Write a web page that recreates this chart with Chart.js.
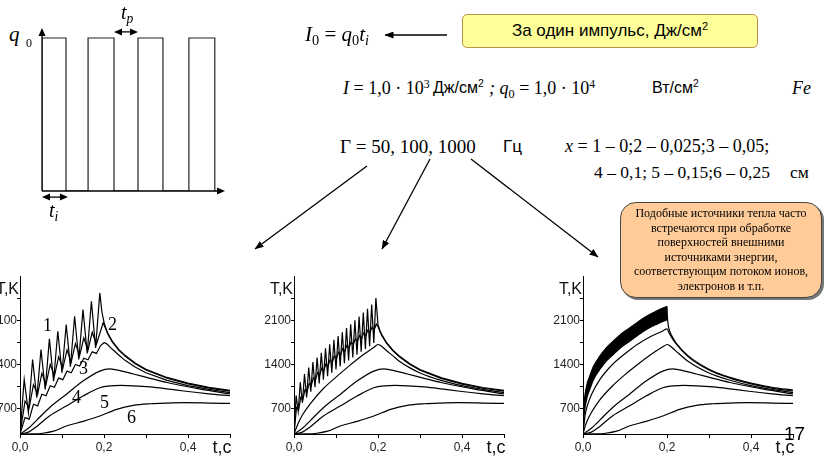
<!DOCTYPE html>
<html>
<head>
<meta charset="utf-8">
<script src="https://cdn.jsdelivr.net/npm/chart.js@4.4.1/dist/chart.umd.min.js"></script>
<style>
html, body { margin: 0; padding: 0; background: #fff; }
body { width: 827px; height: 459px; position: relative; overflow: hidden;
       font-family: "Liberation Serif", "Times New Roman", serif; color: #000; }
.abs { position: absolute; white-space: nowrap; line-height: 1; }
.ar { font-family: "Liberation Sans", Arial, sans-serif; }
i { font-style: italic; }
sub { font-size: 68%; vertical-align: -0.3em; line-height: 0; }
sup { font-size: 65%; vertical-align: 0.55em; line-height: 0; }
canvas { position: absolute; }
</style>
</head>
<body>

<!-- pulse sketch -->
<canvas id="pulse" width="207" height="185" style="left:30px;top:18px"></canvas>
<div class="abs" style="left:9px;top:24px;font-size:21px"><i>q</i></div>
<div class="abs" style="left:26px;top:37px;font-size:12px">0</div>
<div class="abs" style="left:121px;top:2px;font-size:20px"><i>t</i><sub><i>p</i></sub></div>
<div class="abs" style="left:49px;top:200px;font-size:20px"><i>t</i><sub><i>i</i></sub></div>

<!-- formulas -->
<div class="abs" style="left:305px;top:24px;font-size:21px"><i>I</i><sub>0</sub> = <i>q</i><sub>0</sub><i>t</i><sub><i>i</i></sub></div>
<div class="abs ar" style="left:462px;top:14px;width:294px;height:32px;background:#ffff99;border:1px solid #b8964e;border-radius:5px;font-size:17px;line-height:32px;text-align:center">За один импульс, Дж/см<sup>2</sup></div>

<div class="abs" style="left:343px;top:79px;font-size:18px"><i>I</i> = 1,0 · 10<sup>3</sup></div>
<div class="abs ar" style="left:433px;top:80px;font-size:16px">Дж/см<sup>2</sup></div>
<div class="abs" style="left:489px;top:79px;font-size:18px"><i>; q</i><sub>0</sub> = 1,0 · 10<sup>4</sup></div>
<div class="abs ar" style="left:652px;top:80px;font-size:16px">Вт/см<sup>2</sup></div>
<div class="abs" style="left:792px;top:79px;font-size:18px"><i>Fe</i></div>

<div class="abs" style="left:340px;top:137px;font-size:19px">Γ = 50, 100, 1000</div>
<div class="abs ar" style="left:503px;top:138px;font-size:17px">Гц</div>
<div class="abs" style="left:565px;top:137px;font-size:18px"><i>x</i> = 1 – 0;2 – 0,025;3 – 0,05;</div>
<div class="abs" style="left:594px;top:164px;font-size:17.5px">4 – 0,1; 5 – 0,15;6 – 0,25</div>
<div class="abs" style="left:790px;top:164px;font-size:17.5px">см</div>

<!-- arrows -->
<svg width="827" height="459" style="position:absolute;left:0;top:0">
  <defs>
    <marker id="ah" markerWidth="9" markerHeight="7" refX="8.5" refY="3.5" orient="auto" markerUnits="userSpaceOnUse">
      <path d="M0,0 L9,3.5 L0,7 z" fill="#000"/>
    </marker>
  </defs>
  <g stroke="#000" stroke-width="1.3" fill="none">
    <line x1="447" y1="35" x2="385" y2="35" marker-end="url(#ah)"/>
    <line x1="367" y1="166" x2="255" y2="249" marker-end="url(#ah)"/>
    <line x1="430" y1="159" x2="382" y2="249" marker-end="url(#ah)"/>
    <line x1="471" y1="159" x2="598" y2="257" marker-end="url(#ah)"/>
  </g>
</svg>

<!-- charts -->
<canvas id="ch50" width="270" height="192" style="left:-20px;top:266px"></canvas>
<canvas id="ch100" width="270" height="192" style="left:254px;top:266px"></canvas>
<canvas id="ch1000" width="270" height="192" style="left:543px;top:266px"></canvas>

<!-- curve numbers, 50 Hz -->
<div class="abs" style="left:43px;top:316px;font-size:18px">1</div>
<div class="abs" style="left:108px;top:315px;font-size:18px">2</div>
<div class="abs" style="left:79px;top:359px;font-size:18px">3</div>
<div class="abs" style="left:72px;top:388px;font-size:18px">4</div>
<div class="abs" style="left:100px;top:393px;font-size:18px">5</div>
<div class="abs" style="left:127px;top:408px;font-size:18px">6</div>

<div class="abs" style="left:620px;top:202px;width:202px;height:96px;box-sizing:border-box;background:#ffcc99;border:1px solid #444;border-radius:16px;box-shadow:2px 2px 0 #777;font-size:12px;line-height:14.6px;text-align:center;padding-top:3px;white-space:normal;z-index:2">
Подобные источники тепла часто<br>встречаются при обработке<br>поверхностей внешними<br>источниками энергии,<br>соответствующим потоком ионов,<br>электронов и т.п.
</div>

<div class="abs ar" style="left:784px;top:424px;font-size:19px;z-index:3">17</div>

<script>
// axes
const tTicks = [0, 0.1, 0.2, 0.3, 0.4, 0.5];
const tLabels = [0, 0.2, 0.4];
const tempTicks = [700, 1050, 1400, 1750, 2100, 2450];
const tempLabels = [700, 1400, 2100];

// pulse sketch (time in units of t_i)
const pulseStart = [0, 1.92, 4.0, 6.12];
const pulseEnd = [1.0, 3.0, 5.04, 7.2];
const q0 = 1;

// 50 Hz, curve 1 (x = 0)
const t50_1 = [0, 0.01, 0.02, 0.03, 0.04, 0.05, 0.06, 0.07, 0.08, 0.09, 0.1, 0.11, 0.12, 0.13, 0.14, 0.15, 0.16, 0.17, 0.18, 0.19,
  0.195, 0.2, 0.205, 0.21, 0.22, 0.235, 0.25, 0.275, 0.3, 0.35, 0.4, 0.45, 0.5];
const T50_1 = [300, 1163, 637, 1479, 874, 1637, 1005, 1805, 1137, 1926, 1268, 2032, 1363, 2163, 1479, 2268, 1574, 2400, 1663, 2532,
  2230, 2070, 1960, 1880, 1765, 1640, 1545, 1420, 1325, 1195, 1105, 1038, 990];
// 50 Hz, curve 2 (x = 0,025)
const t50_2 = [0, 0.012, 0.022, 0.032, 0.042, 0.052, 0.062, 0.072, 0.082, 0.092, 0.102, 0.112, 0.122, 0.132, 0.142, 0.152, 0.162, 0.172, 0.182, 0.198,
  0.205, 0.21, 0.22, 0.235, 0.25, 0.275, 0.3, 0.35, 0.4, 0.45, 0.5];
const T50_2 = [300, 820, 720, 1080, 930, 1260, 1090, 1400, 1220, 1520, 1340, 1630, 1440, 1730, 1540, 1820, 1630, 1910, 1720, 2060,
  1950, 1870, 1752, 1628, 1532, 1408, 1312, 1182, 1092, 1025, 978];
// 50 Hz, curve 3 (x = 0,05)
const t50_3 = [0, 0.012, 0.022, 0.032, 0.042, 0.052, 0.062, 0.072, 0.082, 0.092, 0.102, 0.112, 0.122, 0.132, 0.142, 0.152, 0.162, 0.172, 0.182, 0.192, 0.2,
  0.205, 0.21, 0.22, 0.235, 0.25, 0.275, 0.3, 0.35, 0.4, 0.45, 0.5];
const T50_3 = [300, 560, 535, 770, 745, 930, 905, 1065, 1040, 1185, 1160, 1295, 1270, 1400, 1375, 1500, 1475, 1600, 1575, 1700, 1745,
  1735, 1705, 1640, 1550, 1465, 1355, 1268, 1148, 1066, 1005, 955];

// deep points, about the same for every frequency
const tDeep4 = [0, 0.02, 0.04, 0.07, 0.11, 0.15, 0.19, 0.213, 0.23, 0.27, 0.31, 0.35, 0.39, 0.43, 0.5];
const TDeep4 = [300, 390, 520, 716, 926, 1137, 1295, 1332, 1315, 1250, 1180, 1115, 1060, 1010, 935];
const tDeep5 = [0, 0.02, 0.04, 0.07, 0.11, 0.15, 0.19, 0.215, 0.24, 0.27, 0.31, 0.35, 0.39, 0.45, 0.5];
const TDeep5 = [300, 330, 420, 584, 742, 900, 1032, 1062, 1068, 1062, 1045, 1015, 980, 935, 905];
const tDeep6 = [0, 0.03, 0.054, 0.08, 0.11, 0.15, 0.19, 0.23, 0.27, 0.31, 0.35, 0.39, 0.45, 0.5];
const TDeep6 = [300, 302, 312, 345, 426, 500, 584, 690, 753, 779, 790, 795, 790, 784];

// 100 Hz
const t100_1 = [0, 0.005, 0.01, 0.015, 0.02, 0.025, 0.03, 0.035, 0.04, 0.045, 0.05, 0.055, 0.06, 0.065, 0.07, 0.075, 0.08, 0.085, 0.09, 0.095,
  0.1, 0.105, 0.11, 0.115, 0.12, 0.125, 0.13, 0.135, 0.14, 0.145, 0.15, 0.155, 0.16, 0.165, 0.17, 0.175, 0.18, 0.185, 0.19, 0.195,
  0.2, 0.205, 0.21, 0.22, 0.235, 0.25, 0.275, 0.3, 0.35, 0.4, 0.45, 0.5];
const T100_1 = [300, 910, 660, 1120, 790, 1250, 880, 1350, 970, 1440, 1040, 1510, 1100, 1585, 1160, 1655, 1215, 1720, 1270, 1790,
  1320, 1850, 1370, 1910, 1420, 1975, 1465, 2035, 1510, 2100, 1555, 2160, 1600, 2220, 1645, 2280, 1690, 2350, 1740, 2450,
  2030, 1930, 1860, 1750, 1630, 1538, 1415, 1320, 1192, 1102, 1036, 990];
const t100_2 = [0, 0.006, 0.011, 0.016, 0.021, 0.026, 0.031, 0.036, 0.041, 0.046, 0.051, 0.056, 0.061, 0.066, 0.071, 0.076, 0.081, 0.086, 0.091, 0.096,
  0.101, 0.106, 0.111, 0.116, 0.121, 0.126, 0.131, 0.136, 0.141, 0.146, 0.151, 0.156, 0.161, 0.166, 0.171, 0.176, 0.181, 0.186, 0.191, 0.196,
  0.2, 0.205, 0.21, 0.22, 0.235, 0.25, 0.275, 0.3, 0.35, 0.4, 0.45, 0.5];
const T100_2 = [300, 720, 680, 880, 840, 1000, 960, 1100, 1060, 1190, 1150, 1270, 1230, 1340, 1300, 1410, 1370, 1475, 1435, 1535,
  1495, 1595, 1555, 1650, 1610, 1705, 1665, 1755, 1715, 1805, 1765, 1855, 1815, 1900, 1860, 1945, 1905, 1990, 1950, 2040,
  2000, 1915, 1848, 1738, 1620, 1525, 1403, 1308, 1180, 1090, 1024, 978];
const t100_3 = [0, 0.01, 0.02, 0.04, 0.07, 0.1, 0.13, 0.16, 0.19, 0.2, 0.205, 0.21, 0.22, 0.235, 0.25, 0.275, 0.3, 0.35, 0.4, 0.45, 0.5];
const T100_3 = [300, 470, 600, 790, 1020, 1200, 1370, 1530, 1670, 1716, 1705, 1680, 1620, 1540, 1455, 1350, 1265, 1148, 1065, 1005, 955];

// 1000 Hz: surface curve is a dense band, given by its edges
const t1000Band = [0, 0.002, 0.005, 0.01, 0.016, 0.025, 0.04, 0.055, 0.072, 0.09, 0.111, 0.13, 0.151, 0.175, 0.2];
const T1000Top = [300, 720, 930, 1100, 1216, 1370, 1532, 1660, 1768, 1880, 1979, 2070, 2163, 2245, 2321];
const T1000Bottom = [300, 560, 720, 890, 1005, 1160, 1321, 1450, 1558, 1670, 1768, 1860, 1953, 2035, 2110];
const t1000After = [0.2, 0.201, 0.203, 0.207, 0.215, 0.225, 0.25, 0.3, 0.35, 0.4, 0.45, 0.5];
const T1000After = [2321, 2150, 2020, 1920, 1810, 1710, 1540, 1325, 1195, 1105, 1040, 995];
const t1000_2 = [0, 0.005, 0.01, 0.02, 0.04, 0.07, 0.1, 0.13, 0.16, 0.19, 0.2, 0.205, 0.21, 0.22, 0.25, 0.3, 0.35, 0.4, 0.45, 0.5];
const T1000_2 = [300, 600, 740, 920, 1160, 1400, 1570, 1720, 1840, 1930, 1963, 1900, 1840, 1740, 1525, 1312, 1183, 1092, 1026, 980];
const t1000_3 = [0, 0.005, 0.01, 0.02, 0.04, 0.07, 0.1, 0.13, 0.16, 0.19, 0.2, 0.205, 0.21, 0.22, 0.25, 0.3, 0.35, 0.4, 0.45, 0.5];
const T1000_3 = [300, 420, 510, 640, 840, 1060, 1240, 1400, 1550, 1680, 1716, 1705, 1680, 1620, 1450, 1265, 1150, 1065, 1005, 955];

const SANS = '"Liberation Sans", Arial, sans-serif';

function pts(ts, vs) {
    return ts.map((t, i) => ({ x: t, y: vs[i] }));
}

function curve(ts, vs, smooth) {
    return {
        data: pts(ts, vs),
        borderColor: '#000',
        borderWidth: 1.2,
        pointRadius: 0,
        tension: 0,
        cubicInterpolationMode: smooth ? 'monotone' : 'default',
        fill: false
    };
}

function head(ctx, x, y, ang) {
    ctx.save();
    ctx.translate(x, y);
    ctx.rotate(ang);
    ctx.beginPath();
    ctx.moveTo(0, 0);
    ctx.lineTo(-8, -3.5);
    ctx.lineTo(-8, 3.5);
    ctx.closePath();
    ctx.fill();
    ctx.restore();
}

//axis arrows and t_i / t_p marks on the pulse sketch
const pulseAxes = {
    id: 'pulseAxes',
    afterDraw(chart) {
        const { ctx, chartArea: a, scales: { x, y } } = chart;
        ctx.save();
        ctx.strokeStyle = '#000';
        ctx.fillStyle = '#000';
        ctx.lineWidth = 1.3;
        ctx.beginPath();
        ctx.moveTo(a.left, a.bottom);
        ctx.lineTo(a.right - 2, a.bottom);
        ctx.moveTo(a.left, a.bottom);
        ctx.lineTo(a.left, a.top + 2);
        ctx.stroke();
        head(ctx, a.right, a.bottom, 0);
        head(ctx, a.left, a.top, -Math.PI / 2);

        const dbl = (x1, x2, yy) => {
            ctx.beginPath();
            ctx.moveTo(x1 + 2, yy);
            ctx.lineTo(x2 - 2, yy);
            ctx.stroke();
            head(ctx, x2, yy, 0);
            head(ctx, x1, yy, Math.PI);
        };
        dbl(x.getPixelForValue(pulseEnd[1]), x.getPixelForValue(pulseStart[2]), y.getPixelForValue(1.04));
        dbl(x.getPixelForValue(pulseStart[0]), x.getPixelForValue(pulseEnd[0] + 0.08), y.getPixelForValue(-0.04));
        ctx.restore();
    }
};

// T,K and t,c titles
const axisTitles = {
    id: 'axisTitles',
    afterDraw(chart) {
        const { ctx, chartArea: a } = chart;
        ctx.save();
        ctx.fillStyle = '#111';
        ctx.textBaseline = 'middle';
        ctx.font = '16px ' + SANS;
        ctx.textAlign = 'right';
        ctx.fillText('T,K', a.left - 1, a.top + 14);
        ctx.font = '18px ' + SANS;
        ctx.textAlign = 'center';
        ctx.fillText('t,c', a.right - 8, a.bottom + 14);
        ctx.restore();
    }
};

//pulse sketch
var pulseData = [];
pulseStart.forEach(function (s, i) {
    pulseData.push({ x: s, y: 0 }, { x: s, y: q0 }, { x: pulseEnd[i], y: q0 }, { x: pulseEnd[i], y: 0 });
});

new Chart(document.getElementById('pulse'), {
    type: 'line',
    data: {
        datasets: [{
            data: pulseData,
            borderColor: '#222',
            borderWidth: 1.2,
            pointRadius: 0,
            tension: 0
        }]
    },
    options: {
        responsive: false,
        animation: false,
        layout: { padding: { left: 12, right: 12, top: 10, bottom: 12 } },
        plugins: { legend: { display: false }, tooltip: { enabled: false } },
        scales: {
            x: { type: 'linear', display: false, min: 0, max: 7.625 },
            y: { type: 'linear', display: false, min: 0, max: 1.0654 }
        }
    },
    plugins: [pulseAxes]
});

function tempChart(id, datasets) {
    return new Chart(document.getElementById(id), {
        type: 'line',
        data: { datasets: datasets },
        options: {
            responsive: false,
            animation: false,
            layout: { padding: { top: 10, right: 20, left: 0, bottom: 0 } },
            plugins: { legend: { display: false }, tooltip: { enabled: false } },
            scales: {
                x: {
                    type: 'linear', min: 0, max: 0.5,
                    afterBuildTicks: function (axis) { axis.ticks = tTicks.map(v => ({ value: v })); },
                    afterFit: function (axis) { axis.height = 24; },
                    ticks: {
                        autoSkip: false, maxRotation: 0, padding: 2, color: '#222',
                        font: { family: SANS, size: 12 },
                        callback: v => tLabels.includes(v) ? v.toFixed(1).replace('.', ',') : ''
                    },
                    grid: { drawOnChartArea: false, tickLength: 4, color: '#000' },
                    border: { color: '#000', width: 1 }
                },
                y: {
                    type: 'linear', min: 300, max: 2800,
                    afterBuildTicks: function (axis) { axis.ticks = tempTicks.map(v => ({ value: v })); },
                    afterFit: function (axis) { axis.width = 40; },
                    ticks: {
                        autoSkip: false, padding: 0, color: '#222',
                        font: { family: SANS, size: 12 },
                        callback: v => tempLabels.includes(v) ? String(v) : ''
                    },
                    grid: { drawOnChartArea: false, tickLength: 3, color: '#000' },
                    border: { color: '#000', width: 1 }
                }
            }
        },
        plugins: [axisTitles]
    });
}

tempChart('ch50', [
    curve(t50_1, T50_1, false),
    curve(t50_2, T50_2, false),
    curve(t50_3, T50_3, false),
    curve(tDeep4, TDeep4, true),
    curve(tDeep5, TDeep5, true),
    curve(tDeep6, TDeep6, true)
]);

tempChart('ch100', [
    curve(t100_1, T100_1, false),
    curve(t100_2, T100_2, false),
    curve(t100_3, T100_3, true),
    curve(tDeep4, TDeep4, true),
    curve(tDeep5, TDeep5, true),
    curve(tDeep6, TDeep6, true)
]);

var band = curve(t1000Band, T1000Top, true);
band.fill = '+1';
band.backgroundColor = '#000';

tempChart('ch1000', [
    band,
    curve(t1000Band, T1000Bottom, true),
    curve(t1000After, T1000After, true),
    curve(t1000_2, T1000_2, true),
    curve(t1000_3, T1000_3, true),
    curve(tDeep4, TDeep4, true),
    curve(tDeep5, TDeep5, true),
    curve(tDeep6, TDeep6, true)
]);
</script>
</body>
</html>
